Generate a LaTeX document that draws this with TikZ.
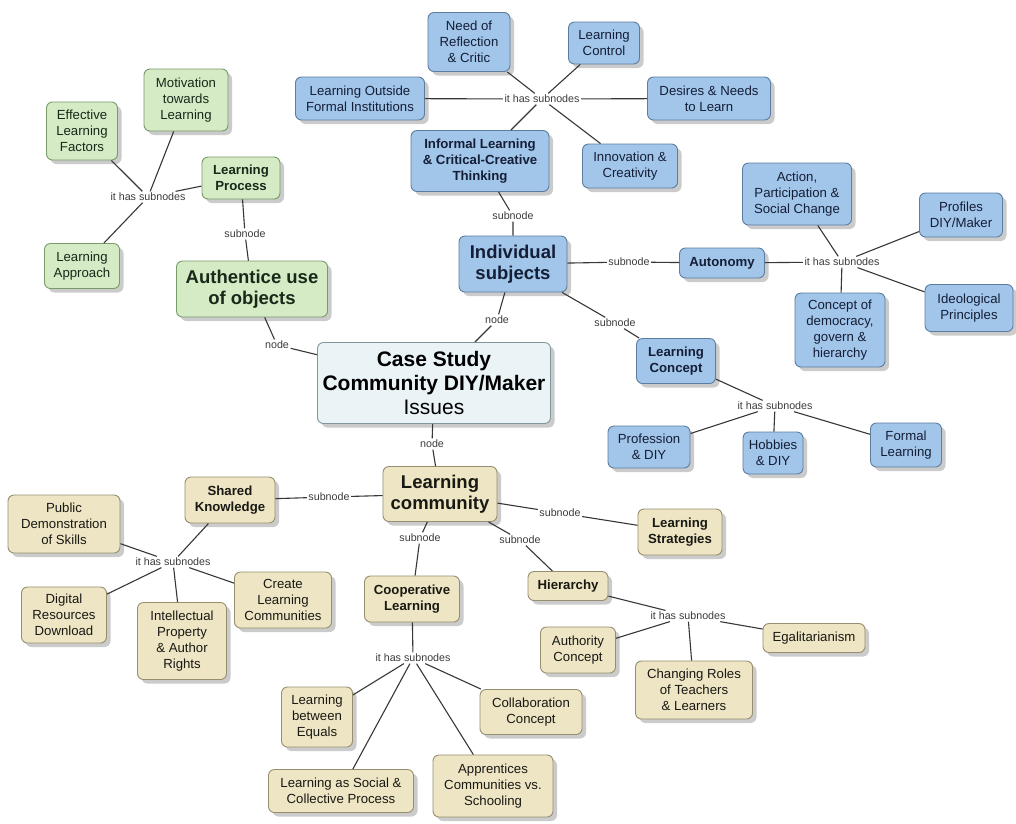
\documentclass[tikz,border=0pt]{standalone}
\usepackage{fontspec}
\setmainfont{Liberation Sans}
\usetikzlibrary{shadows}
\definecolor{bfill}{RGB}{162,197,234}
\definecolor{bdraw}{RGB}{92,124,160}
\definecolor{btext}{RGB}{20,30,55}
\definecolor{gfill}{RGB}{212,235,197}
\definecolor{gdraw}{RGB}{120,155,105}
\definecolor{gtext}{RGB}{25,40,25}
\definecolor{tfill}{RGB}{238,229,196}
\definecolor{tdraw}{RGB}{150,142,112}
\definecolor{ttext}{RGB}{25,25,20}
\definecolor{cfill}{RGB}{234,244,247}
\definecolor{cdraw}{RGB}{130,148,156}
\definecolor{linec}{RGB}{55,55,55}
\definecolor{labtext}{RGB}{60,60,60}
\newcommand{\regf}{\fontsize{13.2}{15.8}\selectfont}
\newcommand{\boldf}{\fontsize{13.2}{15.8}\selectfont\bfseries}
\newcommand{\bigf}{\fontsize{18.5}{21}\selectfont\bfseries}
\newcommand{\cenf}{\fontsize{21}{24}\selectfont}
\newcommand{\labf}{\fontsize{10.7}{12}\selectfont}
\tikzset{
  base/.style={rounded corners=6pt, line width=0.9pt, align=center, inner sep=0pt,
    drop shadow={shadow xshift=4pt, shadow yshift=-4pt, fill=black!40}},
  sz/.style 2 args={minimum width=#1pt, minimum height=#2pt},
  bl/.style={base, fill=bfill, draw=bdraw, text=btext, font=\regf},
  blb/.style={bl, font=\boldf},
  blg/.style={bl, font=\bigf},
  gr/.style={base, fill=gfill, draw=gdraw, text=gtext, font=\regf},
  grb/.style={gr, font=\boldf},
  grg/.style={gr, font=\bigf},
  tn/.style={base, fill=tfill, draw=tdraw, text=ttext, font=\regf},
  tnb/.style={tn, font=\boldf},
  tng/.style={tn, font=\bigf},
  cen/.style={base, fill=cfill, draw=cdraw, text=black, font=\cenf},
  lab/.style={font=\labf, text=labtext, inner sep=1.5pt},
  conn/.style={draw=linec, line width=1.1pt}
}
\begin{document}
\begin{tikzpicture}[x=1pt, y=-1pt]
\fill[white] (0,0) rectangle (1016,823);
\useasboundingbox (0,0) rectangle (1016,823);

% ---------- centre ----------
\node[cen, sz={233}{81}] (case) at (434,383) {{\bfseries Case Study}\\{\bfseries Community DIY/Maker}\\Issues};

% ---------- blue ----------
\node[bl, sz={82}{59}] (nrc) at (469,42) {Need of\\Reflection\\\& Critic};
\node[bl, sz={71}{42}] (lctrl) at (604,43) {Learning\\Control};
\node[bl, sz={129}{43}] (lofi) at (360,98.5) {Learning Outside\\Formal Institutions};
\node[bl, sz={123}{43}] (dnl) at (709,98.5) {Desires \& Needs\\to Learn};
\node[lab] (h1) at (542,99) {it has subnodes};
\node[blb, sz={138}{61}] (infl) at (480,161) {Informal Learning\\\& Critical-Creative\\Thinking};
\node[bl, sz={95}{44}] (innov) at (630,166) {Innovation \&\\Creativity};
\node[lab] (s1) at (513,216) {subnode};
\node[blg, sz={108}{56}] (indiv) at (513,264) {Individual\\subjects};
\node[lab] (s2) at (629,262) {subnode};
\node[blb, sz={85}{30}] (auto) at (722,263) {Autonomy};
\node[lab] (h2) at (842,262) {it has subnodes};
\node[bl, sz={109}{62}] (action) at (797,194) {Action,\\Participation \&\\Social Change};
\node[bl, sz={83}{44}] (prof) at (961,215) {Profiles\\DIY/Maker};
\node[bl, sz={90}{74}] (democ) at (840,330) {Concept of\\democracy,\\govern \&\\hierarchy};
\node[bl, sz={88}{47}] (ideo) at (969,308) {Ideological\\Principles};
\node[lab] (n1) at (497,320) {node};
\node[lab] (s3) at (615,323) {subnode};
\node[blb, sz={79}{45}] (lconc) at (676,361) {Learning\\Concept};
\node[lab] (h3) at (775,406) {it has subnodes};
\node[bl, sz={82}{42}] (profdiy) at (649,447) {Profession\\\& DIY};
\node[bl, sz={60}{42}] (hobb) at (773,453) {Hobbies\\\& DIY};
\node[bl, sz={71}{44}] (formal) at (906,445) {Formal\\Learning};

% ---------- green ----------
\node[gr, sz={84}{62}] (motiv) at (186,100) {Motivation\\towards\\Learning};
\node[gr, sz={71}{58}] (effect) at (82,131) {Effective\\Learning\\Factors};
\node[grb, sz={78}{42}] (lproc) at (241,178) {Learning\\Process};
\node[lab] (h4) at (148,197) {it has subnodes};
\node[gr, sz={75}{45}] (lappr) at (82,266) {Learning\\Approach};
\node[lab] (s4) at (245,234) {subnode};
\node[grg, sz={151}{56}] (auth) at (252,289) {Authentice use\\of objects};
\node[lab] (n2) at (277,345) {node};

% ---------- tan ----------
\node[lab] (n3) at (432,444) {node};
\node[tng, sz={114}{55}] (lcomm) at (440,494) {Learning\\community};
\node[lab] (s5) at (329,497) {subnode};
\node[tnb, sz={90}{46}] (shared) at (230,500) {Shared\\Knowledge};
\node[tn, sz={112}{58}] (public) at (64,524) {Public\\Demonstration\\of Skills};
\node[lab] (h5) at (173,562) {it has subnodes};
\node[tn, sz={85}{56}] (digital) at (64,615) {Digital\\Resources\\Download};
\node[tn, sz={89}{77}] (intel) at (182,641) {Intellectual\\Property\\\& Author\\Rights};
\node[tn, sz={97}{56}] (create) at (283,600) {Create\\Learning\\Communities};
\node[lab] (s6) at (560,513) {subnode};
\node[tnb, sz={84}{46}] (lstrat) at (680,532) {Learning\\Strategies};
\node[lab] (s7) at (420,538) {subnode};
\node[lab] (s8) at (520,540) {subnode};
\node[tnb, sz={95}{46}] (coop) at (412,599) {Cooperative\\Learning};
\node[tnb, sz={80}{29}] (hier) at (568,586) {Hierarchy};
\node[lab] (h6) at (688,616) {it has subnodes};
\node[tn, sz={75}{46}] (authc) at (578,650) {Authority\\Concept};
\node[tn, sz={117}{58}] (chang) at (694,690) {Changing Roles\\of Teachers\\\& Learners};
\node[tn, sz={102}{29}] (egal) at (814,638) {Egalitarianism};
\node[lab] (h7) at (413,658) {it has subnodes};
\node[tn, sz={71}{60}] (lbe) at (317,717) {Learning\\between\\Equals};
\node[tn, sz={102}{45}] (collab) at (531,712) {Collaboration\\Concept};
\node[tn, sz={145}{43}] (lasp) at (341,791) {Learning as Social \&\\Collective Process};
\node[tn, sz={120}{62}] (appr) at (493,786) {Apprentices\\Communities vs.\\Schooling};

% ---------- connectors ----------
\path[conn] (infl) -- (h1);
\path[conn] (h1) -- (nrc);
\path[conn] (h1) -- (lctrl);
\path[conn] (h1) -- (lofi);
\path[conn] (h1) -- (dnl);
\path[conn] (h1) -- (innov);
\path[conn] (infl) -- (s1) -- (indiv);
\path[conn] (case) -- (n1) -- (indiv);
\path[conn] (indiv) -- (s2) -- (auto);
\path[conn] (auto) -- (h2);
\path[conn] (h2) -- (action);
\path[conn] (h2) -- (prof);
\path[conn] (h2) -- (democ);
\path[conn] (h2) -- (ideo);
\path[conn] (indiv) -- (s3) -- (lconc);
\path[conn] (lconc) -- (h3);
\path[conn] (h3) -- (profdiy);
\path[conn] (h3) -- (hobb);
\path[conn] (h3) -- (formal);
\path[conn] (auth) -- (n2) -- (case);
\path[conn] (auth) -- (s4) -- (lproc);
\path[conn] (lproc) -- (h4);
\path[conn] (h4) -- (motiv);
\path[conn] (h4) -- (effect);
\path[conn] (h4) -- (lappr);
\path[conn] (case) -- (n3) -- (lcomm);
\path[conn] (lcomm) -- (s5) -- (shared);
\path[conn] (shared) -- (h5);
\path[conn] (h5) -- (public);
\path[conn] (h5) -- (digital);
\path[conn] (h5) -- (intel);
\path[conn] (h5) -- (create);
\path[conn] (lcomm) -- (s6) -- (lstrat);
\path[conn] (lcomm) -- (s7) -- (coop);
\path[conn] (lcomm) -- (s8) -- (hier);
\path[conn] (hier) -- (h6);
\path[conn] (h6) -- (authc);
\path[conn] (h6) -- (chang);
\path[conn] (h6) -- (egal);
\path[conn] (coop) -- (h7);
\path[conn] (h7) -- (lbe);
\path[conn] (h7) -- (collab);
\path[conn] (h7) -- (lasp);
\path[conn] (h7) -- (appr);
\end{tikzpicture}
\end{document}
